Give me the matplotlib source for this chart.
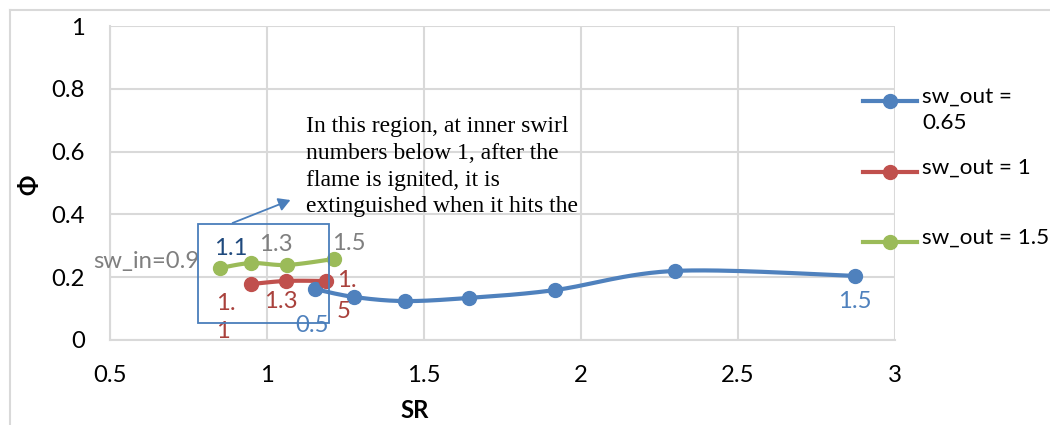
import numpy as np
import matplotlib
matplotlib.use("Agg")
import matplotlib.pyplot as plt
from matplotlib.lines import Line2D
from matplotlib.patches import Rectangle, FancyArrowPatch

# ---------------- data ----------------
sr_065 = [1.153, 1.277, 1.439, 1.643, 1.917, 2.299, 2.873]
phi_065 = [0.162, 0.137, 0.124, 0.134, 0.159, 0.220, 0.204]
lab_065 = ["0.5", "", "", "", "", "", "1.5"]

sr_1 = [0.949, 1.060, 1.188]
phi_1 = [0.178, 0.188, 0.188]
lab_1 = ["1.\n1", "1.3", "1.\n5"]

sr_15 = [0.850, 0.949, 1.064, 1.213]
phi_15 = [0.229, 0.245, 0.239, 0.258]
lab_15 = ["sw_in=0.9", "1.1", "1.3", "1.5"]

series_names = ["sw_out =\n0.65", "sw_out = 1", "sw_out = 1.5"]
x_ticks = [0.5, 1, 1.5, 2, 2.5, 3]
y_ticks = [0, 0.2, 0.4, 0.6, 0.8, 1]
note = ("In this region, at inner swirl\nnumbers below 1, after the\n"
        "flame is ignited, it is\nextinguished when it hits the")

# ---------------- style ----------------
W, H = 1050, 425
BLUE, RED, GREEN = "#4F81BD", "#C0504D", "#9BBB59"
GRID = "#D9D9D9"
FONT = "Lato"
FS = 17.2
LFS = 16.2

plt.rcParams["font.family"] = [FONT, "DejaVu Sans"]


def px(x, y):
    return x / W, 1 - y / H


def smooth(xs, ys, n=30):
    xs = np.asarray(xs, float)
    ys = np.asarray(ys, float)
    if len(xs) < 3:
        return xs, ys
    P = np.column_stack([xs, ys])
    out = [P[0]]
    for i in range(len(P) - 1):
        p0 = P[i - 1] if i > 0 else P[i]
        p1 = P[i]
        p2 = P[i + 1]
        p3 = P[i + 2] if i + 2 < len(P) else P[i + 1]
        c1 = p1 + (p2 - p0) / 6.0
        c2 = p2 - (p3 - p1) / 6.0
        t = np.linspace(0, 1, n)[1:, None]
        seg = ((1 - t) ** 3) * p1 + 3 * ((1 - t) ** 2) * t * c1 + 3 * (1 - t) * t ** 2 * c2 + t ** 3 * p2
        out.extend(seg)
    out = np.array(out)
    return out[:, 0], out[:, 1]


fig = plt.figure(figsize=(W / 100, H / 100), dpi=100)
ax = fig.add_axes([110 / W, (H - 340) / H, (895 - 110) / W, (340 - 26) / H])

ax.set_xlim(0.5, 3)
ax.set_ylim(0, 1)
ax.set_xticks(x_ticks)
ax.set_xticklabels([f"{v:g}" for v in x_ticks])
ax.set_yticks(y_ticks)
ax.set_yticklabels([f"{v:g}" for v in y_ticks])
ax.grid(True, color=GRID, linewidth=1.5)
ax.set_axisbelow(True)
for s in ["top", "right"]:
    ax.spines[s].set_visible(False)
for s in ["left", "bottom"]:
    ax.spines[s].set_color(GRID)
    ax.spines[s].set_linewidth(1.5)
ax.tick_params(length=0, labelsize=FS, colors="black")
ax.tick_params(axis="x", pad=18)
ax.tick_params(axis="y", pad=18)

LW, MS = 3.0, 10
for xs, ys, c in [(sr_065, phi_065, BLUE), (sr_1, phi_1, RED), (sr_15, phi_15, GREEN)]:
    sx, sy = smooth(xs, ys)
    ax.plot(sx, sy, color=c, lw=LW, solid_capstyle="round", zorder=3, clip_on=False)
    ax.plot(xs, ys, "o", color=c, ms=MS, zorder=4, clip_on=False)

# data labels
blue_lab_c = BLUE
red_lab_c = "#A9413C"
gray_c = "#7F7F7F"
dblue_c = "#1F497D"

lab_specs_065 = [((-3, -36), "center", "center", blue_lab_c, 1.2), None, None, None, None, None,
                 ((0, -26), "center", "center", blue_lab_c, 1.2)]
for x, y, t, spec in zip(sr_065, phi_065, lab_065, lab_specs_065):
    if spec and t:
        off, ha, va, c, ls = spec
        ax.annotate(t, (x, y), xytext=off, textcoords="offset pixels", ha=ha, va=va,
                    color=c, fontsize=FS, linespacing=ls, zorder=5)

lab_specs_1 = [((-35, -33), "left", "center", red_lab_c, 1.4),
               ((-5, -21), "center", "center", red_lab_c, 1.2),
               ((11, -15), "left", "center", red_lab_c, 1.55)]
for x, y, t, spec in zip(sr_1, phi_1, lab_1, lab_specs_1):
    off, ha, va, c, ls = spec
    ax.annotate(t, (x, y), xytext=off, textcoords="offset pixels", ha=ha, va=va,
                color=c, fontsize=FS, linespacing=ls, zorder=5, annotation_clip=False)

lab_specs_15 = [((-20, 7), "right", "center", gray_c),
                ((-20, 15), "center", "center", dblue_c),
                ((-11, 20), "center", "center", gray_c),
                ((15, 15), "center", "center", gray_c)]
for x, y, t, spec in zip(sr_15, phi_15, lab_15, lab_specs_15):
    off, ha, va, c = spec
    ax.annotate(t, (x, y), xytext=off, textcoords="offset pixels", ha=ha, va=va,
                color=c, fontsize=FS, zorder=5, annotation_clip=False)

# annotation box + arrow + note
x0, y0 = px(198, 323)
x1, y1 = px(329, 224)
fig.patches.append(Rectangle((x0, y0), x1 - x0, y1 - y0, transform=fig.transFigure,
                             fill=False, edgecolor="#4A7EBB", lw=1.3, zorder=6))
fig.patches.append(FancyArrowPatch(px(230, 224), px(293, 199), transform=fig.transFigure,
                                   arrowstyle="-|>,head_length=7,head_width=4",
                                   color="#4A7EBB", lw=1.3, zorder=6))
fig.text(*px(306, 116), note, ha="left", va="top", fontsize=17,
         family="Liberation Serif", linespacing=1.36, color="black")

# axis titles
fig.text(*px(415, 410), "SR", ha="center", va="center", fontsize=FS, fontweight="bold")
fig.text(*px(30, 185), "Φ", ha="center", va="center", fontsize=FS, fontweight="bold",
         rotation=90)

# legend (manual)
leg_y = [101, 172, 242]
for yy, name, c in zip(leg_y, series_names, [BLUE, RED, GREEN]):
    fx0, fy = px(863, yy)
    fx1, _ = px(917, yy)
    fig.add_artist(Line2D([fx0, fx1], [fy, fy], transform=fig.transFigure, color=c, lw=LW))
    fig.add_artist(Line2D([px(890, yy)[0]], [fy], transform=fig.transFigure, color=c,
                          marker="o", ms=MS, lw=0))
    fig.text(*px(922, yy - 14), name, ha="left", va="top", fontsize=LFS, linespacing=1.4)

# outer frame (top and left edges visible)
fig.add_artist(Line2D([10 / W, 1.0], [1 - 10 / H] * 2, transform=fig.transFigure,
                      color=GRID, lw=1.5))
fig.add_artist(Line2D([10 / W] * 2, [1 - 10 / H, 0], transform=fig.transFigure,
                      color=GRID, lw=1.5))

fig.savefig("out.png", dpi=100)
